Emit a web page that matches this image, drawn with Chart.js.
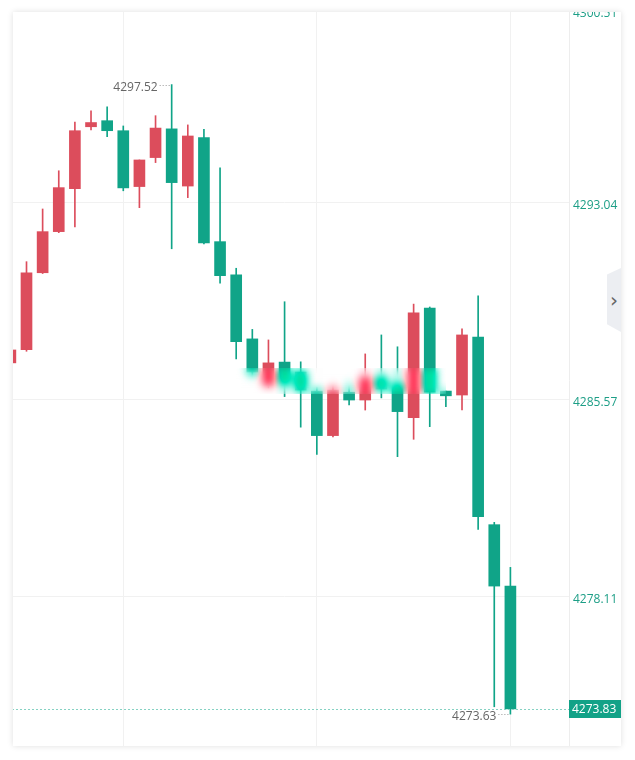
<!DOCTYPE html>
<html>
<head>
<meta charset="utf-8">
<script src="https://cdn.jsdelivr.net/npm/chart.js@4.4.1/dist/chart.umd.min.js"></script>
<style>
  html, body { margin: 0; padding: 0; background: #ffffff; width: 635px; height: 760px; overflow: hidden; }
  #card { position: absolute; left: 13px; top: 12px; width: 608px; height: 734px; overflow: hidden;
          background: #ffffff; box-shadow: 0 0 6px rgba(0,0,0,0.13); }
  #c { position: absolute; left: -13px; top: -12px; }
  #blur { position: absolute; left: 187px; top: 356px; width: 246px; height: 26px;
          backdrop-filter: blur(4.5px) saturate(2.6); -webkit-backdrop-filter: blur(4.5px) saturate(2.6);
          -webkit-mask-image: linear-gradient(to right, transparent 0, #000 45px);
          mask-image: linear-gradient(to right, transparent 0, #000 45px); }
  #tab { position: absolute; left: 594px; top: 256px; width: 14px; height: 64px; background: #eceef2;
         clip-path: polygon(0 10%, 100% 0, 100% 100%, 0 88%);
         font: 20px "DejaVu Sans", sans-serif; color: #666; display: flex; align-items: center; justify-content: center; }
</style>
</head>
<body>
<div id="card">
  <canvas id="c" width="635" height="760"></canvas>
  <div id="blur"></div>
  <div id="tab">›</div>
</div>
<script>
const categories = ['1','2','3','4','5','6','7','8','9','10','11','12','13','14','15','16',
                    '17','18','19','20','21','22','23','24','25','26','27','28','29','30','31','32'];
const opens  = [4286.96, 4287.46, 4290.38, 4291.94, 4293.57, 4295.92, 4296.15, 4295.77, 4293.65, 4294.75, 4295.84,
                4293.67, 4295.51, 4291.56, 4290.30, 4287.87, 4286.12, 4286.99, 4286.61, 4285.89, 4284.20, 4285.85,
                4285.55, 4286.39, 4286.16, 4284.88, 4289.04, 4285.89, 4285.74, 4287.94, 4280.82, 4278.49];
const closes = [4287.45, 4290.38, 4291.94, 4293.61, 4295.77, 4296.08, 4295.77, 4293.60, 4294.66, 4295.87, 4293.80,
                4295.57, 4291.51, 4290.27, 4287.76, 4286.61, 4286.96, 4286.16, 4285.93, 4284.20, 4285.93, 4285.55,
                4286.39, 4285.97, 4285.11, 4288.86, 4285.85, 4285.71, 4288.02, 4281.12, 4278.49, 4273.83];
const highs  = [4287.45, 4290.80, 4292.80, 4294.25, 4296.10, 4296.52, 4296.68, 4295.95, 4294.66, 4296.34, 4297.52,
                4295.99, 4295.82, 4294.36, 4290.55, 4288.23, 4287.83, 4289.28, 4287.00, 4286.04, 4286.16, 4286.23,
                4287.30, 4288.02, 4287.57, 4289.19, 4289.08, 4285.89, 4288.25, 4289.50, 4280.91, 4279.20];
const lows   = [4286.90, 4287.40, 4290.35, 4291.90, 4292.12, 4295.80, 4295.54, 4293.49, 4292.85, 4294.56, 4291.29,
                4293.23, 4291.47, 4289.98, 4287.11, 4286.39, 4286.01, 4285.68, 4284.52, 4283.49, 4284.15, 4285.36,
                4285.17, 4285.63, 4283.40, 4284.06, 4284.54, 4285.30, 4285.17, 4280.64, 4273.91, 4273.63];
const yTickValues = [4278.11, 4285.57, 4293.04, 4300.51];
const xGridIndices = [7, 19, 31];

const RED = '#dc4d5c';
const GREEN = '#10a488';
const TEAL_TEXT = '#1c9e86';
const FONT = '"Open Sans", "Noto Sans", sans-serif';

const candleColor = (ctx) => closes[ctx.dataIndex] >= opens[ctx.dataIndex] ? RED : GREEN;

const wickData = categories.map((c, i) => ({ x: i, y: [lows[i], highs[i]] }));
const bodyData = categories.map((c, i) => ({ x: i, y: [opens[i], closes[i]] }));
const topTick = Math.max(...yTickValues);

const markers = {
  id: 'markers',
  afterDatasetsDraw(chart) {
    const { ctx, chartArea, scales: { x, y } } = chart;
    ctx.save();
    const last = closes[closes.length - 1];
    const yLast = Math.round(y.getPixelForValue(last)) + 0.5;
    ctx.setLineDash([2, 2]);
    ctx.lineWidth = 1;
    ctx.strokeStyle = '#86d2c3';
    ctx.beginPath(); ctx.moveTo(chartArea.left, yLast); ctx.lineTo(chartArea.right, yLast); ctx.stroke();

    let hi = 0, lo = 0;
    highs.forEach((v, i) => { if (v > highs[hi]) hi = i; });
    lows.forEach((v, i) => { if (v < lows[lo]) lo = i; });
    ctx.font = '12px ' + FONT;
    ctx.fillStyle = '#666';
    ctx.strokeStyle = '#999';
    ctx.setLineDash([1, 2]);
    const drawMark = (idx, val) => {
      const px = x.getPixelForValue(idx);
      const py = Math.round(y.getPixelForValue(val)) + 0.5;
      ctx.beginPath(); ctx.moveTo(px - 12, py); ctx.lineTo(px - 1, py); ctx.stroke();
      ctx.textAlign = 'right'; ctx.textBaseline = 'middle';
      ctx.fillText(val.toFixed(2), px - 14, py + 2.5);
    };
    drawMark(hi, highs[hi]);
    drawMark(lo, lows[lo]);
    ctx.restore();
  },
  afterDraw(chart) {
    const { ctx, chartArea, scales: { y } } = chart;
    const last = closes[closes.length - 1];
    const yl = y.getPixelForValue(last);
    ctx.save();
    ctx.fillStyle = '#12a287';
    ctx.fillRect(chartArea.right, Math.round(yl) - 9, 52, 18);
    ctx.fillStyle = '#ffffff';
    ctx.font = '12px ' + FONT;
    ctx.textAlign = 'left'; ctx.textBaseline = 'middle';
    ctx.fillText(last.toFixed(2), chartArea.right + 3, Math.round(yl) + 0.5);
    ctx.restore();
  }
};

new Chart(document.getElementById('c'), {
  type: 'bar',
  data: {
    labels: categories,
    datasets: [
      { label: 'body', data: bodyData, backgroundColor: candleColor, borderWidth: 0,
        barThickness: 11, grouped: false, order: 0 },
      { label: 'wick', data: wickData, backgroundColor: candleColor, borderWidth: 0,
        barThickness: 1, grouped: false, order: 1 }
    ]
  },
  options: {
    responsive: false,
    animation: false,
    events: [],
    layout: { padding: 0 },
    plugins: { legend: { display: false }, tooltip: { enabled: false } },
    scales: {
      x: {
        type: 'linear',
        min: -0.6429,
        max: 34.633,
        offset: false,
        ticks: { display: false },
        grid: { color: '#f1f1f1', drawTicks: false, offset: false },
        border: { display: false },
        afterBuildTicks: (s) => { s.ticks = xGridIndices.map(v => ({ value: v })); },
        afterFit: (s) => { s.height = 0; s.paddingLeft = 0; s.paddingRight = 0; }
      },
      y: {
        position: 'right',
        min: 4271.89,
        max: 4300.73,
        ticks: {
          padding: 4,
          labelOffset: 3,
          color: TEAL_TEXT,
          font: { family: FONT, size: 12, lineHeight: 0.8 },
          callback: (v) => Number(v) === topTick ? ['', Number(v).toFixed(2)] : Number(v).toFixed(2)
        },
        grid: { color: '#f1f1f1', drawTicks: false },
        border: { display: true, color: '#ededed' },
        afterBuildTicks: (s) => { s.ticks = yTickValues.map(v => ({ value: v })); },
        afterFit: (s) => { s.width = 66; s.paddingTop = 0; s.paddingBottom = 0; }
      }
    }
  },
  plugins: [markers]
});
</script>
</body>
</html>
